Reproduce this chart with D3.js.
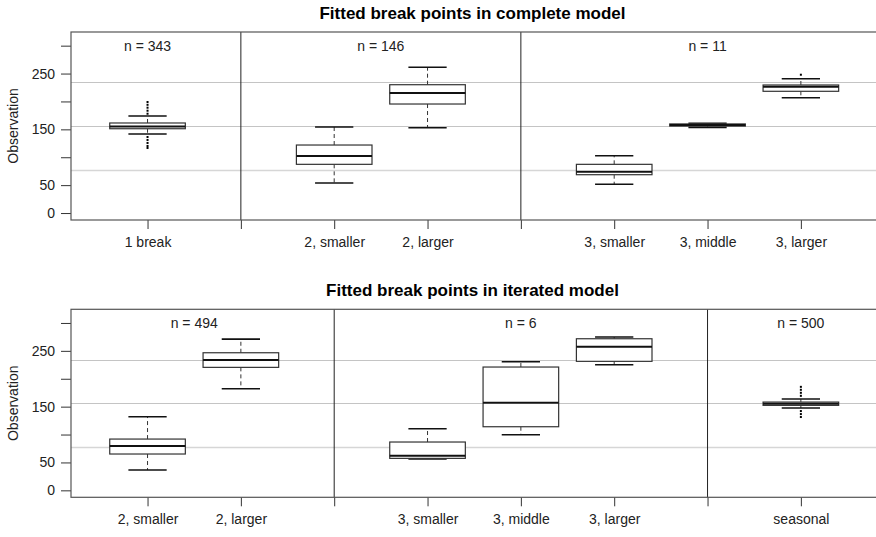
<!DOCTYPE html>
<html><head><meta charset="utf-8">
<script src="https://cdn.jsdelivr.net/npm/d3@7"></script>
<style>
body{margin:0;background:#fff}
svg{display:block;font-family:"Liberation Sans",Arial,Helvetica,sans-serif}
</style>
</head><body><svg id="c" width="876" height="537"></svg>
<script>
// ---- data ----
const yTicks = [0, 50, 100, 150, 200, 250, 300];
const yTickLabels = ["0", "50", "", "150", "", "250", ""];
const refLines = [78, 156, 234];
const yLabel = "Observation";

const topTitle = "Fitted break points in complete model";
const topCats = ["1 break", "2, smaller", "2, larger", "3, smaller", "3, middle", "3, larger"];
const topAt = [1, 3, 4, 6, 7, 8];
// [lower whisker, Q1, median, Q3, upper whisker]
const topStats = [
  [141.6, 151.1, 155.1, 161.4, 173.9],
  [53.8, 87.3, 102.2, 121.9, 154.2],
  [152.9, 195.4, 215.1, 230.0, 261.2],
  [51.5, 68.7, 74.1, 87.3, 102.8],
  [153.6, 155.8, 157.7, 159.7, 160.8],
  [206.7, 218.2, 226.4, 229.5, 240.8]
];
const topOut = [
  [199, 194, 188.8, 183.4, 178, 136.3, 131, 125.6, 120.2, 116.6],
  [], [], [], [],
  [247.9]
];
const topSep = [2, 5];
const topN = ["n = 343", "n = 146", "n = 11"];
const topNAt = [1, 3.5, 7];

const botTitle = "Fitted break points in iterated model";
const botCats = ["2, smaller", "2, larger", "3, smaller", "3, middle", "3, larger", "seasonal"];
const botAt = [1, 2, 4, 5, 6, 8];
const botStats = [
  [36.4, 65.1, 79.4, 91.9, 131.9],
  [182.1, 220.4, 233.5, 246.6, 271.1],
  [56.1, 57.3, 62.0, 86.6, 110.4],
  [99.6, 114.0, 157.0, 221.0, 230.5],
  [225.1, 231.2, 257.3, 271.7, 274.7],
  [147.5, 152.3, 155.2, 158.2, 163.6]
];
const botOut = [
  [], [], [], [], [],
  [185.5, 180.2, 174.8, 169.4, 142.1, 136.7, 131.4]
];
const botSep = [3, 7];
const botN = ["n = 494", "n = 6", "n = 500"];
const botNAt = [1.5, 5, 8];

const xTicks = [1, 2, 3, 4, 5, 6, 7, 8];

// ---- drawing ----
const svg = d3.select("#c");
const L = 71, R = 877.4, H = 188;
const x = d3.scaleLinear().domain([0.18, 8.82]).range([L, R]);
const boxHalf = 0.405, capHalf = 0.205;

function panel(top, title, cats, at, stats, outs, seps, nLabels, nAt) {
  const g = svg.append("g");
  const y = d3.scaleLinear().domain([-12.48, 324.48]).range([top + H, top]);

  g.append("text").attr("x", 472.5).attr("y", top - 13)
    .attr("text-anchor", "middle").attr("font-weight", "bold")
    .attr("font-size", 17).attr("fill", "#000").text(title);

  // reference lines
  g.selectAll(".ref").data(refLines).join("line")
    .attr("x1", L).attr("x2", R)
    .attr("y1", d => Math.round(y(d)) + 0.5).attr("y2", d => Math.round(y(d)) + 0.5)
    .attr("stroke", (d, i) => i === 0 ? "#d6d6d6" : "#c4c4c4")
    .attr("stroke-width", (d, i) => i === 0 ? 1.6 : 1);

  // separators
  g.selectAll(".sep").data(seps).join("line")
    .attr("x1", d => x(d)).attr("x2", d => x(d))
    .attr("y1", top).attr("y2", top + H)
    .attr("stroke", "#222").attr("stroke-width", 1);

  // y axis
  const ya = g.append("g").attr("transform", `translate(${L},0)`)
    .call(d3.axisLeft(y).tickValues(yTicks).tickFormat((d, i) => yTickLabels[i])
      .tickSize(10).tickPadding(6).tickSizeOuter(0));
  ya.select(".domain").remove();
  ya.selectAll("line").attr("stroke", "#333");
  ya.selectAll("text").attr("font-size", 14).attr("fill", "#222")
    .attr("font-family", "'Liberation Sans',Arial,sans-serif");

  // x axis
  const labelAt = new Map(at.map((p, i) => [p, cats[i]]));
  const xa = g.append("g").attr("transform", `translate(0,${top + H})`)
    .call(d3.axisBottom(x).tickValues(xTicks).tickFormat(d => labelAt.get(d) || "")
      .tickSize(9).tickPadding(8).tickSizeOuter(0));
  xa.select(".domain").remove();
  xa.selectAll("line").attr("stroke", "#333");
  xa.selectAll("text").attr("font-size", 14).attr("fill", "#222")
    .attr("font-family", "'Liberation Sans',Arial,sans-serif");

  // frame
  g.append("rect").attr("x", L).attr("y", top).attr("width", R - L).attr("height", H)
    .attr("fill", "none").attr("stroke", "#555").attr("stroke-width", 1.2);

  // y label
  g.append("text")
    .attr("transform", `translate(18,${top + H / 2}) rotate(-90)`)
    .attr("text-anchor", "middle").attr("font-size", 14).attr("fill", "#222").text(yLabel);

  // n labels
  g.selectAll(".n").data(nLabels).join("text")
    .attr("x", (d, i) => x(nAt[i])).attr("y", top + 19)
    .attr("text-anchor", "middle").attr("font-size", 14).attr("fill", "#222").text(d => d);

  // boxes
  stats.forEach((s, i) => {
    const cx = x(at[i]);
    const bw = x(at[i] + boxHalf) - cx, cw = x(at[i] + capHalf) - cx;
    const bx = g.append("g");
    bx.append("line").attr("x1", cx).attr("x2", cx).attr("y1", y(s[3])).attr("y2", y(s[4]))
      .attr("stroke", "#333").attr("stroke-dasharray", "4,3");
    bx.append("line").attr("x1", cx).attr("x2", cx).attr("y1", y(s[1])).attr("y2", y(s[0]))
      .attr("stroke", "#333").attr("stroke-dasharray", "4,3");
    [s[0], s[4]].forEach(v => {
      bx.append("line").attr("x1", cx - cw).attr("x2", cx + cw).attr("y1", y(v)).attr("y2", y(v))
        .attr("stroke", "#111").attr("stroke-width", 1.6);
    });
    bx.append("rect").attr("x", cx - bw).attr("width", 2 * bw)
      .attr("y", y(s[3])).attr("height", Math.max(0.5, y(s[1]) - y(s[3])))
      .attr("fill", "#fff").attr("stroke", "#333").attr("stroke-width", 1.2);
    bx.append("line").attr("x1", cx - bw).attr("x2", cx + bw).attr("y1", y(s[2])).attr("y2", y(s[2]))
      .attr("stroke", "#111").attr("stroke-width", 2);
    bx.selectAll(".o").data(outs[i]).join("rect")
      .attr("x", cx - 1).attr("y", d => y(d) - 1).attr("width", 2).attr("height", 2)
      .attr("fill", "#000");
  });
}

panel(32, topTitle, topCats, topAt, topStats, topOut, topSep, topN, topNAt);
panel(309.3, botTitle, botCats, botAt, botStats, botOut, botSep, botN, botNAt);
</script>
</body></html>
